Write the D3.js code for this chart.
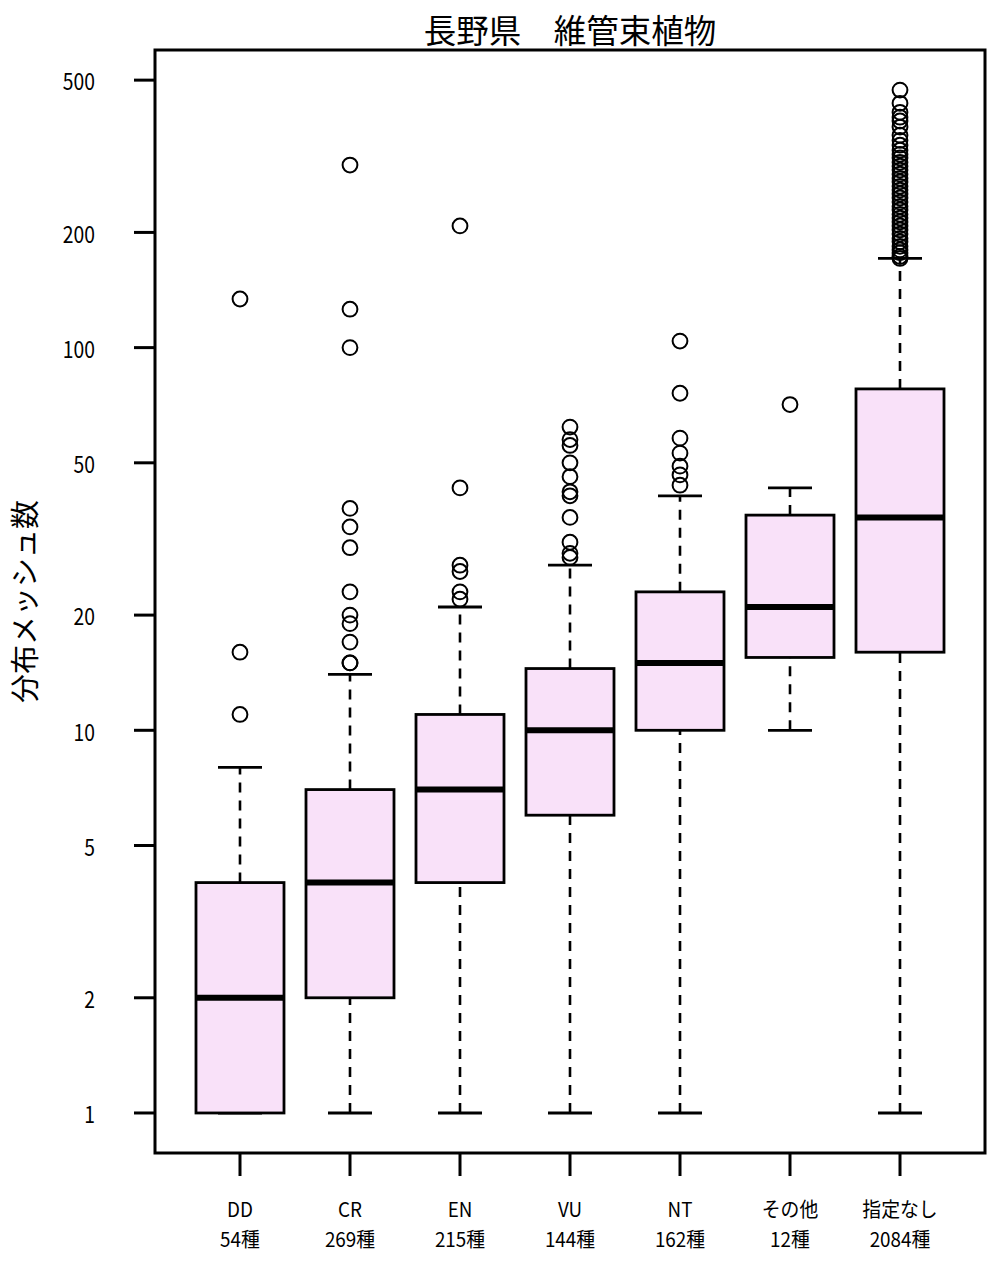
<!DOCTYPE html>
<html><head><meta charset="utf-8">
<script src="https://cdn.jsdelivr.net/npm/d3@7"></script>
<style>body{margin:0;background:#fff}svg{display:block}</style>
</head><body>
<script>
const categories = ["DD","CR","EN","VU","NT","その他","指定なし"];
const counts = ["54種","269種","215種","144種","162種","12種","2084種"];
const whiskerLow = [1,1,1,1,1,10,1];
const q1 = [1,2,4,6,10,15.5,16];
const median = [2,4,7,10,15,21,36];
const q3 = [4,7,11,14.5,23,36.5,78];
const whiskerHigh = [8,14,21,27,41,43,171];
const outliers = [
  [134,16,11],
  [300,126,100,38,34,30,23,20,19,17,15,15],
  [208,43,27,26,23,22],
  [62,57.5,55.5,50,46,42,41,36,31,29,28.3],
  [104,76,58,53,49,46.5,43.7],
  [71],
  [471,435,412,400,391,377,359,348,338,328,320,313,305,298,291,284,277,271,264,258,252,246,240,234,229,223,218,213,208,203,198,193,189,184,180,177,173,171]
];
const yTicks = [1,2,5,10,20,50,100,200,500];
const title = "長野県　維管束植物";
const yTitle = "分布メッシュ数";

const W = 1008, H = 1274;
const L = 155, R = 985, T = 50, B = 1153;
const font = "'Noto Sans CJK JP','Noto Sans',sans-serif";

const svg = d3.select("body").append("svg").attr("width", W).attr("height", H);

const x = d3.scaleLinear().domain([0.2273, 7.7727]).range([L, R]);
const y = d3.scaleLog().domain([0.786, 599.4]).range([B, T]);
const bw = x(1.4) - x(1); // half box width (0.4)
const cw = bw / 2;        // half cap width

const g = svg.append("g");

categories.forEach((c, i) => {
  const cx = x(i + 1);
  const gg = g.append("g");
  gg.append("line").attr("x1", cx).attr("x2", cx)
    .attr("y1", y(whiskerLow[i])).attr("y2", y(q1[i]))
    .attr("stroke", "#000").attr("stroke-width", 2.6).attr("stroke-dasharray", "10,8");
  gg.append("line").attr("x1", cx).attr("x2", cx)
    .attr("y1", y(q3[i])).attr("y2", y(whiskerHigh[i]))
    .attr("stroke", "#000").attr("stroke-width", 2.6).attr("stroke-dasharray", "10,8");
  [whiskerLow[i], whiskerHigh[i]].forEach(v => {
    gg.append("line").attr("x1", cx - cw).attr("x2", cx + cw)
      .attr("y1", y(v)).attr("y2", y(v))
      .attr("stroke", "#000").attr("stroke-width", 2.8);
  });
  gg.append("rect").attr("x", cx - bw).attr("width", 2 * bw)
    .attr("y", y(q3[i])).attr("height", y(q1[i]) - y(q3[i]))
    .attr("fill", "#F9E1F9").attr("stroke", "#000").attr("stroke-width", 2.8);
  gg.append("line").attr("x1", cx - bw).attr("x2", cx + bw)
    .attr("y1", y(median[i])).attr("y2", y(median[i]))
    .attr("stroke", "#000").attr("stroke-width", 6);
  gg.selectAll("circle").data(outliers[i]).enter().append("circle")
    .attr("cx", cx).attr("cy", d => y(d)).attr("r", 7.4)
    .attr("fill", "none").attr("stroke", "#000").attr("stroke-width", 2);
});

svg.append("rect").attr("x", L).attr("y", T).attr("width", R - L).attr("height", B - T)
  .attr("fill", "none").attr("stroke", "#000").attr("stroke-width", 3);

yTicks.forEach(v => {
  svg.append("line").attr("x1", 134).attr("x2", L).attr("y1", y(v)).attr("y2", y(v))
    .attr("stroke", "#000").attr("stroke-width", 3);
  svg.append("g").attr("transform", `translate(95,${y(v)}) scale(0.84,1)`)
    .append("text").attr("text-anchor", "end").attr("dominant-baseline", "central")
    .attr("font-family", font).attr("font-size", 23).attr("fill", "#000").text(v);
});

categories.forEach((c, i) => {
  const cx = x(i + 1);
  svg.append("line").attr("x1", cx).attr("x2", cx).attr("y1", B).attr("y2", 1176)
    .attr("stroke", "#000").attr("stroke-width", 3);
  svg.append("g").attr("transform", `translate(${cx},1208.5) scale(0.92,1)`)
    .append("text").attr("text-anchor", "middle").attr("dominant-baseline", "central")
    .attr("font-family", font).attr("font-size", 20.5).attr("fill", "#000").text(c);
  svg.append("g").attr("transform", `translate(${cx},1238) scale(0.92,1)`)
    .append("text").attr("text-anchor", "middle").attr("dominant-baseline", "central")
    .attr("font-family", font).attr("font-size", 20.5).attr("fill", "#000").text(counts[i]);
});

svg.append("text").attr("x", (L + R) / 2).attr("y", 28)
  .attr("text-anchor", "middle").attr("dominant-baseline", "central")
  .attr("font-family", font).attr("font-size", 32.5).attr("fill", "#000").text(title);

svg.append("text").attr("transform", `translate(22.5,${(T + B) / 2}) rotate(-90)`)
  .attr("text-anchor", "middle").attr("dominant-baseline", "central")
  .attr("font-family", font).attr("font-size", 29).attr("fill", "#000").text(yTitle);
</script>
</body></html>
